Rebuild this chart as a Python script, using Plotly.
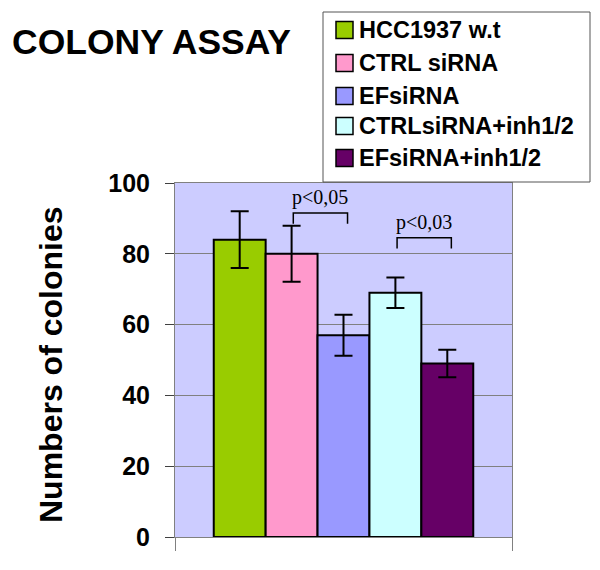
import plotly.graph_objects as go

# ---- data ----
groups = ["HCC1937 w.t", "CTRL siRNA", "EFsiRNA", "CTRLsiRNA+inh1/2", "EFsiRNA+inh1/2"]
colonies = [84, 80, 57, 69, 49]
errors = [8, 7.9, 5.8, 4.3, 3.9]
colors = ["#99CC00", "#FF99CC", "#9999FF", "#CCFFFF", "#660066"]
y_ticks = [0, 20, 40, 60, 80, 100]
category = ["Colony assay"]
comparisons = [(1, 2, "p&lt;0,05"), (3, 4, "p&lt;0,03")]
bracket_levels = [91.5, 84.5]

# ---- layout constants ----
W, H = 600, 570
L, R, T, B = 175, 88, 183, 33
BARGAP = 0.23
FONT = "Arial, Liberation Sans, sans-serif"
SERIF = "Times New Roman, Liberation Serif, serif"
GRID = "#808080"


def px_x(px):
    return (px - L) / (W - L - R)


def px_y(py):
    return (H - B - py) / (H - T - B)


fig = go.Figure()
for name, v, e, c in zip(groups, colonies, errors, colors):
    fig.add_trace(go.Bar(
        x=category, y=[v], name=name,
        marker=dict(color=c, line=dict(color="black", width=2)),
        error_y=dict(type="data", array=[e], color="black", thickness=2, width=9),
        showlegend=False,
    ))

# significance brackets, positioned from bar slots
n = len(groups)
bw = (1 - BARGAP) / n


def center(i):
    return -(1 - BARGAP) / 2 + bw * (i + 0.5)


shapes = []
annotations = []
for (a, b, label), lvl in zip(comparisons, bracket_levels):
    xa, xb = center(a) + 0.005, center(b) + 0.012
    shapes.append(dict(type="path", xref="x", yref="y",
                       path=f"M {xa},{lvl - 3} L {xa},{lvl} L {xb},{lvl} L {xb},{lvl - 3}",
                       line=dict(color="black", width=1.5)))
    annotations.append(dict(x=(xa + xb) / 2, y=lvl + 0.6, xref="x", yref="y",
                            text=label, showarrow=False, yanchor="bottom",
                            font=dict(family=SERIF, size=20, color="black")))

# legend box (manual)
shapes.append(dict(type="rect", xref="paper", yref="paper",
                   x0=px_x(323), x1=px_x(590), y0=px_y(182), y1=px_y(12),
                   fillcolor="white", line=dict(color="#555555", width=1)))
leg_y = [30, 63, 96, 126, 158]
for name, c, yy in zip(groups, colors, leg_y):
    shapes.append(dict(type="rect", xref="paper", yref="paper",
                       x0=px_x(336), x1=px_x(353), y0=px_y(yy + 8.5), y1=px_y(yy - 8.5),
                       fillcolor=c, line=dict(color="black", width=1.5)))
    annotations.append(dict(x=px_x(357), y=px_y(yy), xref="paper", yref="paper",
                            text=name, showarrow=False, xanchor="left", yanchor="middle",
                            font=dict(family=FONT, size=23.5, color="black", weight="bold")))

# title
annotations.append(dict(x=px_x(10), y=px_y(42), xref="paper", yref="paper",
                        text="COLONY ASSAY", showarrow=False, xanchor="left", yanchor="middle",
                        font=dict(family=FONT, size=35.5, color="black", weight="bold")))
# y axis title
annotations.append(dict(x=px_x(51), y=px_y(365), xref="paper", yref="paper",
                        text="Numbers of colonies", showarrow=False, textangle=-90,
                        xanchor="center", yanchor="middle",
                        font=dict(family=FONT, size=32, color="black", weight="bold")))

fig.update_layout(
    width=W, height=H,
    margin=dict(l=L, r=R, t=T, b=B, pad=0),
    paper_bgcolor="white", plot_bgcolor="#CCCCFF",
    barmode="group", bargap=BARGAP, bargroupgap=0,
    shapes=shapes, annotations=annotations,
    showlegend=False,
    font=dict(family=FONT, color="black"),
)
fig.update_xaxes(type="category", range=[-0.5, 0.5], tickson="boundaries",
                 ticks="outside", ticklen=13, tickcolor=GRID, showticklabels=False,
                 showline=True, linecolor=GRID, linewidth=1, mirror=True, showgrid=False)
fig.update_yaxes(range=[0, 100], tickvals=y_ticks, ticks="outside", ticklen=9,
                 tickcolor="#404040", showgrid=True, gridcolor=GRID, gridwidth=1,
                 showline=True, linecolor=GRID, linewidth=1, mirror=True, zeroline=False,
                 tickfont=dict(family=FONT, size=25, color="black", weight="bold"),
                 ticklabelstandoff=10)

fig.write_html("out.html", config={"displayModeBar": False},
               post_script="document.body.style.margin='0';")
